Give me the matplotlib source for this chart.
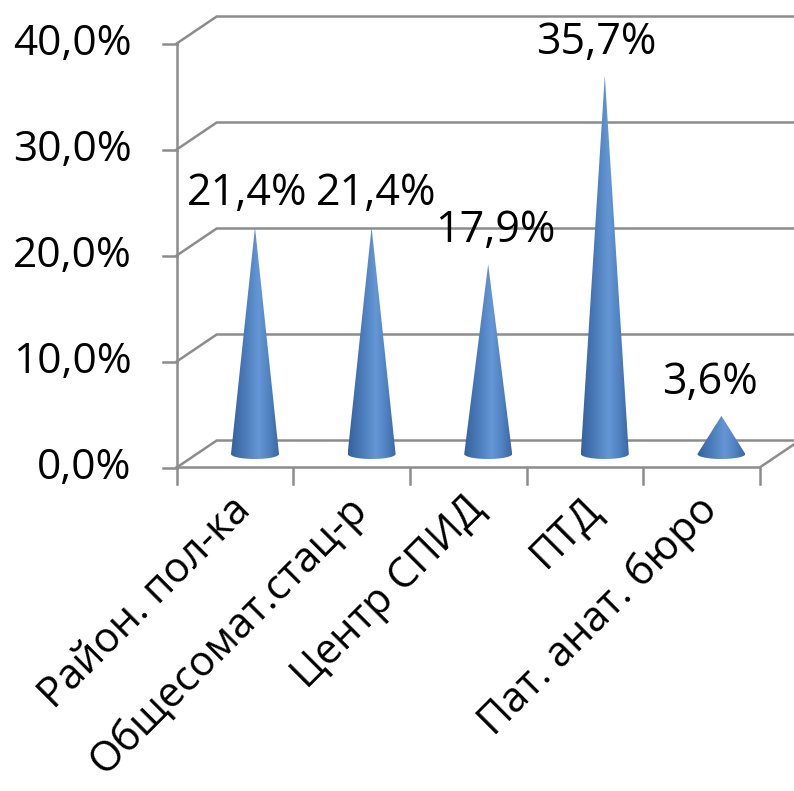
import matplotlib.pyplot as plt
import numpy as np
from matplotlib.path import Path
from matplotlib.patches import PathPatch
from matplotlib.colors import LinearSegmentedColormap

categories = ["Район. пол-ка", "Общесомат.стац-р", "Центр СПИД", "ПТД", "Пат. анат. бюро"]
values = [21.4, 21.4, 17.9, 35.7, 3.6]
y_ticks = [0, 10, 20, 30, 40]
y_tick_labels = ["0,0%", "10,0%", "20,0%", "30,0%", "40,0%"]

plt.rcParams['font.family'] = ['Open Sans', 'DejaVu Sans']

W, H = 794, 791
fig = plt.figure(figsize=(W / 100, H / 100), dpi=100)
ax = fig.add_axes([0, 0, 1, 1])

# pixel layout: category step 116.6 px, 10.6 px per percent
px_cat, px_pct = 116.6, 10.6
x0_px, y0_px = 255, 454
ax.axis('off')

# depth offsets for the front and back planes
dxf, dxb = -20 / px_cat, 20 / px_cat
dyf, dyb = -13.5 / px_pct, 13.5 / px_pct
n = len(categories)
grid_col = '#8c8c8c'
lw = 1.8

# back wall gridlines + left wall diagonals
for v, lab in zip(y_ticks, y_tick_labels):
    ax.plot([-0.5 + dxf, -0.5 + dxb, n - 0.5 + dxb + 0.2], [v + dyf, v + dyb, v + dyb],
            color=grid_col, lw=lw, solid_joinstyle='miter', zorder=1)
    ax.plot([-0.5 + dxf - 14 / px_cat, -0.5 + dxf], [v + dyf, v + dyf], color=grid_col, lw=lw, zorder=1)
    ax.text(-0.5 + dxf - 45 / px_cat, v + dyf, lab,
            ha='right', va='center', fontsize=30.5, color='black')

# left vertical axis
ax.plot([-0.5 + dxf, -0.5 + dxf], [dyf, y_ticks[-1] + dyf], color=grid_col, lw=lw, zorder=1)

# floor front edge and right side
ax.plot([-0.5 + dxf, n - 0.5 + dxf, n - 0.5 + dxb], [dyf, dyf, dyb], color=grid_col, lw=lw, zorder=1)
for i in range(n + 1):
    ax.plot([i - 0.5 + dxf, i - 0.5 + dxf], [dyf, dyf - 16 / px_pct], color=grid_col, lw=lw, zorder=1)

# cones
cmap = LinearSegmentedColormap.from_list('cone', [
    (0.0, '#36629b'), (0.25, '#4777b5'), (0.58, '#6597d6'), (0.78, '#5283c3'), (1.0, '#3b68a3')])
hw = 24 / px_cat
hh = 5 / px_pct
grad = np.linspace(0, 1, 256).reshape(1, -1)
label_dx = [-8, 5, 7, -9, -11]
for i, v in enumerate(values):
    t = np.linspace(np.pi, 2 * np.pi, 60)
    ex = i + hw * np.cos(t)
    ey = hh * np.sin(t)
    verts = [(i, v)] + list(zip(ex, ey)) + [(i, v)]
    codes = [Path.MOVETO] + [Path.LINETO] * (len(verts) - 2) + [Path.CLOSEPOLY]
    patch = PathPatch(Path(verts, codes), facecolor='none', edgecolor='none')
    ax.add_patch(patch)
    im = ax.imshow(grad, cmap=cmap, aspect='auto', extent=[i - hw, i + hw, -hh, v],
                   interpolation='bicubic', zorder=3)
    im.set_clip_path(patch)
    ax.annotate(f"{v:.1f}%".replace('.', ','), (i, v), xytext=(label_dx[i], 22), textcoords='offset pixels',
                ha='center', va='baseline', fontsize=31, color='black', zorder=4)

# category labels
for i, c in enumerate(categories):
    ax.text(i + dxf + 10 / px_cat, dyf - 36 / px_pct, c, rotation=45, rotation_mode='anchor',
            ha='right', va='center', fontsize=30, color='black')

ax.set_xlim((0 - x0_px) / px_cat, (W - x0_px) / px_cat)
ax.set_ylim((y0_px - H) / px_pct, (y0_px - 0) / px_pct)
fig.savefig('out.png', dpi=100)
